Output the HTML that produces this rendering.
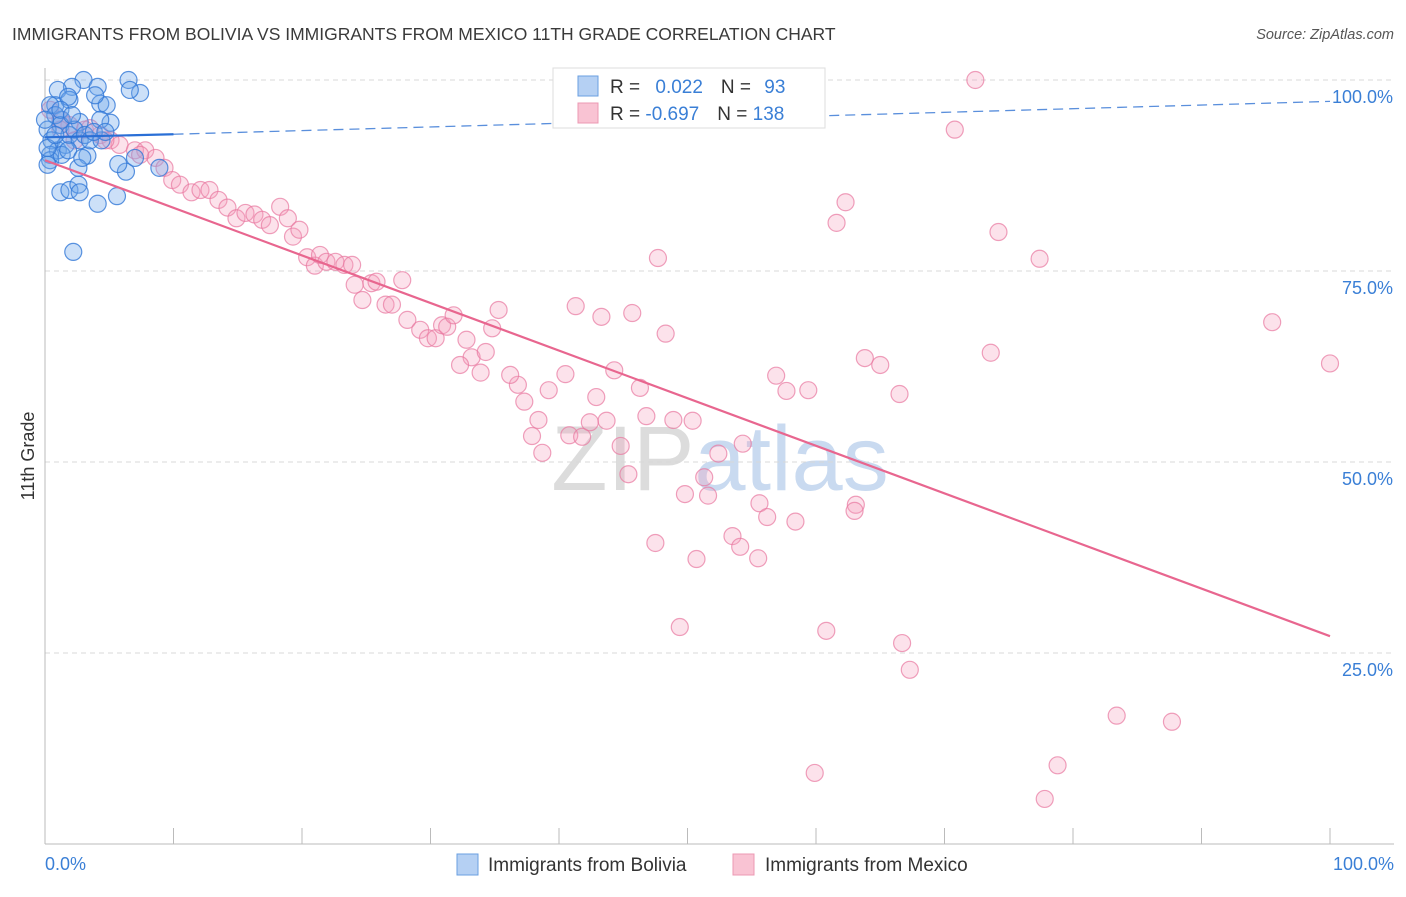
<!DOCTYPE html>
<html><head><meta charset="utf-8"><style>
body{margin:0;background:#fff;font-family:"Liberation Sans",sans-serif;}
svg text{font-family:"Liberation Sans",sans-serif;}
</style></head><body>
<svg id="chart" width="1406" height="892" viewBox="0 0 1406 892" xmlns="http://www.w3.org/2000/svg">
<text x="12" y="40" font-size="17.5" fill="#3a3a3a">IMMIGRANTS FROM BOLIVIA VS IMMIGRANTS FROM MEXICO 11TH GRADE CORRELATION CHART</text>
<text x="1394" y="39" font-size="14.5" fill="#555" text-anchor="end" font-style="italic">Source: ZipAtlas.com</text>
<text x="720" y="490" font-size="92" fill="#e4e4e4" text-anchor="middle" font-family="Liberation Serif"><tspan fill="#dcdcdc">ZIP</tspan><tspan fill="#c9daf0" font-family="Liberation Sans">atlas</tspan></text>
<g id="grid"></g>
<g id="axes"></g>
<g id="pts"></g>
<g id="trends"></g>
<text transform="translate(34,456) rotate(-90)" font-size="18" fill="#333" text-anchor="middle">11th Grade</text>
<g>
<rect x="553" y="68" width="272" height="60" fill="#fff" stroke="#ddd"/>
<rect x="578" y="76" width="20" height="20" fill="#b5d0f3" stroke="#6a9fe0"/>
<rect x="578" y="103" width="20" height="20" fill="#f9c3d3" stroke="#ec98b3"/>
<text x="610" y="93" font-size="19" fill="#333">R = <tspan fill="#3a7fd6" dx="10">0.022</tspan><tspan dx="18" fill="#333">N = </tspan><tspan fill="#3a7fd6" dx="8">93</tspan></text>
<text x="610" y="120" font-size="19" fill="#333">R = <tspan fill="#3a7fd6">-0.697</tspan><tspan dx="18" fill="#333">N = </tspan><tspan fill="#3a7fd6">138</tspan></text>
</g>
<g>
<rect x="457" y="854" width="21" height="21" fill="#b5d0f3" stroke="#6a9fe0"/>
<text x="488" y="871" font-size="19" fill="#333">Immigrants from Bolivia</text>
<rect x="733" y="854" width="21" height="21" fill="#f9c3d3" stroke="#ec98b3"/>
<text x="765" y="871" font-size="19" fill="#333">Immigrants from Mexico</text>
</g>
</svg>
<script>
const yTicks=[25,50,75,100];
const yTickLabels=["25.0%","50.0%","75.0%","100.0%"];
const xTickCount=10;
const xLabels=["0.0%","100.0%"];
const boliviaX=[3.0,2.1,4.1,6.5,1.0,0.8,1.9,4.3,4.8,1.3,2.7,5.1,7.4,6.6,3.9,1.8,0.4,0.8,1.2,0.2,0.5,1.0,0.4,1.6,1.9,2.3,2.7,3.3,0.4,1.3,1.8,3.1,3.5,4.3,4.4,0,0.2,0.8,1.2,2.1,2.6,1.2,1.9,2.6,2.7,4.1,5.6,6.3,5.7,7.0,8.9,2.2,0.2,2.9,3.8,4.7];
const boliviaY=[100,99.1,99.1,100,98.7,96.7,97.4,96.9,96.7,94.8,94.5,94.4,98.3,98.7,98.0,97.8,96.7,95.4,94.1,93.5,92.1,90.8,90.2,91.5,92.8,93.5,92.1,90.1,89.5,90.2,90.8,92.8,92.1,94.8,92.1,94.8,91.1,92.8,96.1,95.4,88.5,85.3,85.6,86.3,85.3,83.8,84.8,88.0,89.0,89.8,88.5,77.5,88.9,89.8,93.2,93.2];
const mexicoX=[72.4,70.8,62.3,61.6,74.2,77.4,47.7,95.5,100,73.6,41.3,43.3,45.7,48.3,63.8,65.0,56.9,57.7,59.4,66.5,44.3,46.3,42.9,40.5,39.2,36.8,37.3,36.2,38.4,37.9,38.7,40.8,41.8,42.4,43.7,44.8,46.8,48.9,50.4,52.4,54.3,51.3,49.8,51.6,45.4,55.6,56.2,58.4,63.1,63.0,47.5,50.7,53.5,54.1,55.5,49.4,60.8,66.7,67.3,83.4,87.7,78.8,59.9,77.8,
0.4,1.2,1.9,3.1,4.3,5.1,5.8,7.0,7.8,8.6,9.3,9.9,10.5,11.4,12.1,12.8,13.5,14.2,14.9,15.6,16.3,16.9,17.5,18.3,18.9,19.3,19.8,20.4,21.0,21.4,21.9,22.6,23.3,23.9,24.1,24.7,25.4,25.8,26.5,27.0,27.8,28.2,29.2,29.8,30.4,30.9,31.3,31.8,32.8,33.2,32.3,33.9,34.3,34.8,35.3,1.2,2.3,3.5,4.7,7.4];
const mexicoY=[100,93.5,84.0,81.3,80.1,76.6,76.7,68.3,62.9,64.3,70.4,69.0,69.5,66.8,63.6,62.7,61.3,59.3,59.4,58.9,62.0,59.7,58.5,61.5,59.4,60.1,57.9,61.4,55.5,53.4,51.2,53.5,53.3,55.2,55.4,52.1,56.0,55.5,55.4,51.1,52.4,48.0,45.8,45.6,48.4,44.6,42.8,42.2,44.4,43.6,39.4,37.3,40.3,38.9,37.4,28.4,27.9,26.3,22.8,16.8,16.0,10.3,9.3,5.9,
96.1,94.8,94.1,93.5,92.8,92.1,91.5,90.8,90.8,89.8,88.5,86.9,86.3,85.3,85.6,85.6,84.3,83.3,81.9,82.6,82.4,81.7,81.0,83.4,81.9,79.5,80.4,76.8,75.7,77.1,76.2,76.2,75.8,75.8,73.2,71.2,73.4,73.6,70.6,70.6,73.8,68.6,67.3,66.2,66.2,67.9,67.7,69.2,66.0,63.7,62.7,61.7,64.4,67.5,69.9,93.5,92.1,93.7,92.1,90.2];
const boliviaTrendX=[0,10,100];
const boliviaTrendY=[92.5,92.9,97.2];
const mexicoTrendX=[0,100];
const mexicoTrendY=[89.5,27.2];

const NS="http://www.w3.org/2000/svg";
const X0=45,X1=1330,Y0=844,Y100=80;
const sx=v=>X0+(X1-X0)*v/100;
const sy=v=>Y0-(Y0-Y100)*v/100;
function mk(tag,attrs,parent){const e=document.createElementNS(NS,tag);for(const k in attrs)e.setAttribute(k,attrs[k]);parent.appendChild(e);return e;}
const grid=document.getElementById('grid'),axes=document.getElementById('axes'),pts=document.getElementById('pts'),tr=document.getElementById('trends');
yTicks.forEach((t,i)=>{
  const l=mk('line',{x1:X0,x2:1394,y1:sy(t),y2:sy(t),stroke:'#d8d8d8','stroke-dasharray':'5,4'},grid);
  
  
  const tx=mk('text',{x:1393,y:sy(t)+23,'font-size':18,fill:'#3a7fd6','text-anchor':'end'},grid);
  
  
  tx.textContent=yTickLabels[i];
});
const ax=mk('line',{x1:X0,x2:X0,y1:68,y2:Y0,stroke:'#bbb'},axes);


const bx=mk('line',{x1:X0,x2:1394,y1:Y0,y2:Y0,stroke:'#bbb'},axes);


for(let i=0;i<=xTickCount;i++){
  const t=mk('line',{x1:sx(i*10),x2:sx(i*10),y1:828,y2:Y0,stroke:'#bbb'},axes);
  
  
}
[[0,'start',X0],[1,'end',1394]].forEach(([i,a,x])=>{
  const t=mk('text',{x:x,y:870,'font-size':18,fill:'#3a7fd6','text-anchor':a},axes);
  
  
  t.textContent=xLabels[i];
});
mexicoX.forEach((v,i)=>{
  const c=mk('circle',{cx:sx(v),cy:sy(mexicoY[i]),r:8.5,fill:'rgba(244,160,190,0.3)',stroke:'rgba(232,120,160,0.7)','stroke-width':1.2},pts);
  
  
});
boliviaX.forEach((v,i)=>{
  const c=mk('circle',{cx:sx(v),cy:sy(boliviaY[i]),r:8.5,fill:'rgba(110,165,235,0.35)',stroke:'rgba(50,120,215,0.8)','stroke-width':1.2},pts);
  
  
});
const bs=mk('line',{x1:sx(boliviaTrendX[0]),y1:sy(boliviaTrendY[0]),x2:sx(boliviaTrendX[1]),y2:sy(boliviaTrendY[1]),stroke:'#2a6fd6','stroke-width':2.2},tr);


const bd=mk('line',{x1:sx(boliviaTrendX[1]),y1:sy(boliviaTrendY[1]),x2:sx(boliviaTrendX[2]),y2:sy(boliviaTrendY[2]),stroke:'#5a8fdc','stroke-width':1.3,'stroke-dasharray':'10,6'},tr);


const mt=mk('line',{x1:sx(mexicoTrendX[0]),y1:sy(mexicoTrendY[0]),x2:sx(mexicoTrendX[1]),y2:sy(mexicoTrendY[1]),stroke:'#e8668f','stroke-width':2.2},tr);


</script>
</body></html>
